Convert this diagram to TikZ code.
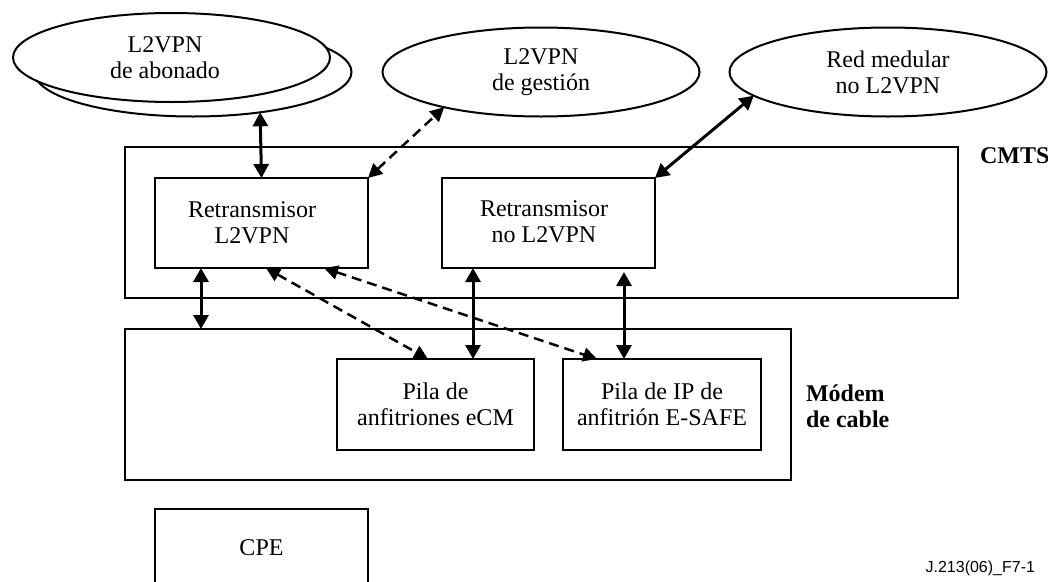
\documentclass[tikz,border=0pt]{standalone}
\usepackage{fontspec}
\setmainfont{Liberation Serif}
\newfontfamily\figsans{Liberation Sans}
\usetikzlibrary{arrows.meta,shapes.geometric}

\begin{document}
\begin{tikzpicture}[x=1pt,y=-1pt,
  every node/.style={inner sep=0pt, outer sep=0pt, align=center,
    font=\fontsize{24}{26}\selectfont},
  boxnode/.style={draw, line width=2pt, rectangle},
  cloud/.style={draw, line width=2pt, ellipse, fill=white,
    minimum width=317pt, minimum height=89pt},
  solidlink/.style={line width=3pt,
    {Triangle[length=14pt,width=15pt]}-{Triangle[length=14pt,width=15pt]}},
  dashlink/.style={line width=2.5pt, dash pattern=on 10pt off 6pt,
    {Triangle[length=14pt,width=14pt]}-{Triangle[length=14pt,width=14pt]}},
  heading/.style={font=\fontsize{24}{26}\selectfont\bfseries, align=left}
]
\useasboundingbox (0,0) rectangle (1048,581);
\clip (0,0) rectangle (1048,581);

% networks
\node[cloud] (e1back) at (193,72) {};
\node[cloud] (e1) at (171.5,57.5) {};
\node (e1t) at (165,57.5) {L2VPN\\de abonado};
\node[cloud] (e2) at (541,72) {L2VPN\\de gestión};
\node[cloud] (e3) at (888,72) {Red medular\\no L2VPN};

% CMTS
\node[boxnode, minimum width=833pt, minimum height=151pt] (cmts) at (541.5,222.5) {};
\node[heading, anchor=base west] (cmtsl) at (980,163) {CMTS};
\node[boxnode, minimum width=213pt, minimum height=90pt] (rl) at (261.5,223) {};
\node (rlt) at (252,223) {Retransmisor\\L2VPN};
\node[boxnode, minimum width=213pt, minimum height=90pt] (rn) at (548.5,223) {};
\node (rnt) at (544,222) {Retransmisor\\no L2VPN};

% cable modem
\node[boxnode, minimum width=666pt, minimum height=151pt] (modem) at (458,404.5) {};
\node[heading, anchor=west] (modeml) at (806,406) {Módem\\de cable};
\node[boxnode, minimum width=197pt, minimum height=91pt] (ecm) at (435.5,404.5)
  {Pila de\\anfitriones eCM};
\node[boxnode, minimum width=198pt, minimum height=91pt] (esafe) at (662,404.5)
  {Pila de IP de\\anfitrión E-SAFE};

% CPE
\node[boxnode, minimum width=213pt, minimum height=78pt] (cpe) at (261.5,548) {CPE};

\node[font=\figsans\fontsize{16}{18}\selectfont, anchor=base east] (fig) at (1035,572)
  {J.213(06)\_F7-1};

% x positions of the vertical links
\coordinate (xa) at (201,0);
\coordinate (xb) at (473,0);
\coordinate (xc) at (624,0);

% links
\draw[solidlink] (rl.north) -- (e1back.329.6);
\draw[dashlink] (rl.north east) -- (e2.200);
\draw[solidlink] (rn.north east) -- (e3.190);
\draw[solidlink] (xa |- rl.south) -- (xa |- modem.north);
\draw[dashlink] ([xshift=111pt]rl.south west) -- ([xshift=91pt]ecm.north west);
\draw[dashlink] ([xshift=169pt]rl.south west) -- ([xshift=34pt]esafe.north west);
\draw[solidlink] (xb |- rn.south) -- (xb |- ecm.north);
\draw[solidlink, shorten <=4pt] (xc |- rn.south) -- (xc |- esafe.north);
\end{tikzpicture}
\end{document}
